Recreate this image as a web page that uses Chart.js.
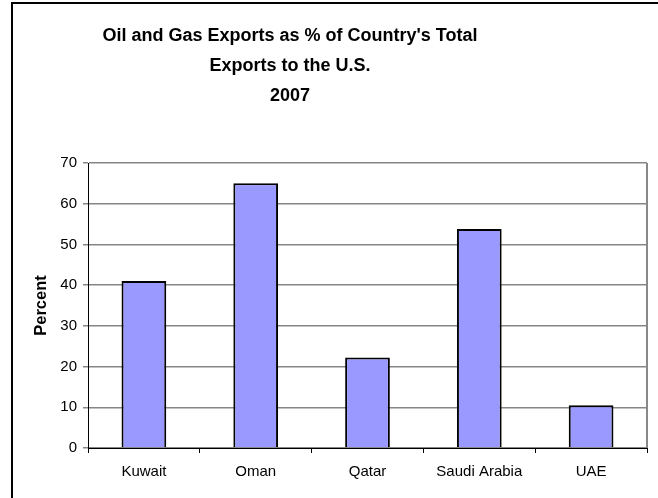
<!DOCTYPE html>
<html>
<head>
<meta charset="utf-8">
<script src="https://cdn.jsdelivr.net/npm/chart.js@4"></script>
<style>
  html, body { margin: 0; padding: 0; background: #fff; }
  #wrap { position: relative; width: 658px; height: 498px; overflow: hidden; }
  #chart { position: absolute; left: -67px; top: 0; }
</style>
</head>
<body>
<div id="wrap"><canvas id="chart" width="725" height="498"></canvas></div>
<script>
// chart data
const countries = ["Kuwait", "Oman", "Qatar", "Saudi Arabia", "UAE"];
const oilGasShare = [41, 65, 22.2, 53.8, 10.5];
const yTicks = [0, 10, 20, 30, 40, 50, 60, 70];
const titleLines = ["Oil and Gas Exports as % of Country's Total", "Exports to the U.S.", "2007"];

// frame around the whole picture + right edge of plot area
const framePlugin = {
  id: "frame",
  beforeDraw(chart) {
    const c = chart.ctx;
    c.save();
    c.fillStyle = "#fff";
    c.fillRect(0, 0, chart.width, chart.height);
    c.strokeStyle = "#000";
    c.lineWidth = 2;
    c.strokeRect(79, 3, 700, 520);
    c.restore();
  },
  beforeDatasetsDraw(chart) {
    const a = chart.chartArea;
    const c = chart.ctx;
    c.save();
    c.strokeStyle = "#888";
    c.lineWidth = 2;
    c.beginPath();
    c.moveTo(a.right, a.top);
    c.lineTo(a.right, a.bottom);
    c.stroke();
    c.restore();
  }
};

const ctx = document.getElementById("chart").getContext("2d");
new Chart(ctx, {
  type: "bar",
  data: {
    labels: countries,
    datasets: [{
      data: oilGasShare,
      backgroundColor: "#9999FF",
      borderColor: "#000",
      borderWidth: 2,
      barPercentage: 0.4,
      categoryPercentage: 1.0
    }]
  },
  options: {
    responsive: false,
    animation: false,
    layout: { padding: { top: 21, left: 0, right: 11, bottom: 7 } },
    plugins: {
      legend: { display: false },
      tooltip: { enabled: false },
      title: {
        display: true,
        text: titleLines,
        color: "#000",
        font: { family: "Liberation Sans, Arial", size: 18, weight: "bold", lineHeight: 30 / 18 },
        padding: { top: 0, bottom: 52 }
      }
    },
    scales: {
      x: {
        grid: { display: true, drawOnChartArea: false, drawTicks: true, tickLength: 5, color: "#000", offset: true },
        border: { color: "#000", width: 1 },
        ticks: { color: "#000", padding: 10, font: { family: "Liberation Sans, Arial", size: 15 } }
      },
      y: {
        min: 0,
        max: 70,
        afterFit(scale) { scale.width = 155; },
        afterBuildTicks(scale) { scale.ticks = yTicks.map(v => ({ value: v })); },
        grid: { color: "#868686", lineWidth: 1.5, tickLength: 5 },
        border: { color: "#000", width: 1 },
        ticks: { color: "#000", padding: 6, font: { family: "Liberation Sans, Arial", size: 15 } },
        title: {
          display: true,
          text: "Percent",
          color: "#000",
          padding: { top: 99, bottom: 0 },
          font: { family: "Liberation Sans, Arial", size: 16.5, weight: "bold" }
        }
      }
    }
  },
  plugins: [framePlugin]
});
</script>
</body>
</html>
